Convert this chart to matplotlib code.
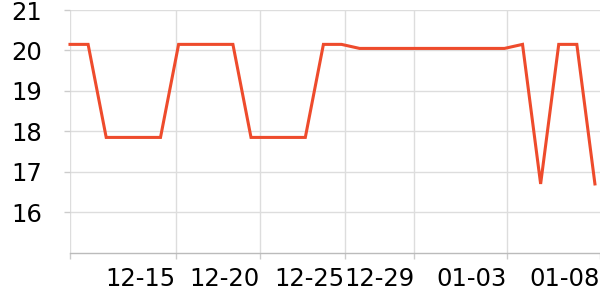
import numpy as np
import matplotlib.pyplot as plt

# valores (um ponto por registro)
valores = [20.15, 20.15, 17.85, 17.85, 17.85, 17.85,
           20.15, 20.15, 20.15, 20.15, 17.85, 17.85, 17.85, 17.85,
           20.15, 20.15, 20.05, 20.05, 20.05, 20.05, 20.05, 20.05,
           20.05, 20.05, 20.05, 20.15, 16.7, 20.15, 20.15, 16.7]

# rotulos do eixo x e onde caem (em unidades de indice)
rotulos = ['', '12-15', '12-20', '12-25', '12-29', '01-03', '01-08']
pos_rotulos = [0, 5.83, 10.5, 15.17, 19.03, 24.12, 29.28]

yticks = [16, 17, 18, 19, 20, 21]

fig = plt.figure(figsize=(6, 3), dpi=100)
ax = fig.add_axes([70/600, 1 - 252.7/300, 1 - 70/600, (252.7 - 10)/300])

x = np.arange(len(valores))
ax.plot(x, valores, color='#ee4b2c', linewidth=2.2, solid_joinstyle='miter', clip_on=False, zorder=3)

ax.set_xlim(0, 29.28)
ax.set_ylim(15, 21)

ax.set_yticks(yticks)
ax.set_yticklabels([str(v) for v in yticks])
ax.set_xticks(pos_rotulos)
ax.set_xticklabels(rotulos, ha='right')

ax.grid(True, color='#dddddd', linewidth=1)
ax.set_axisbelow(True)
ax.xaxis.get_gridlines()[-1].set_visible(False)

for s in ['top', 'right', 'left']:
    ax.spines[s].set_visible(False)
ax.spines['bottom'].set_color('#bbbbbb')
ax.spines['bottom'].set_linewidth(1)

ax.tick_params(axis='both', labelsize=17.5, colors='#cccccc', labelcolor='black', length=4, width=1)
ax.tick_params(axis='y', pad=16)
ax.tick_params(axis='x', pad=6)

fig.savefig('out.png', dpi=100)
